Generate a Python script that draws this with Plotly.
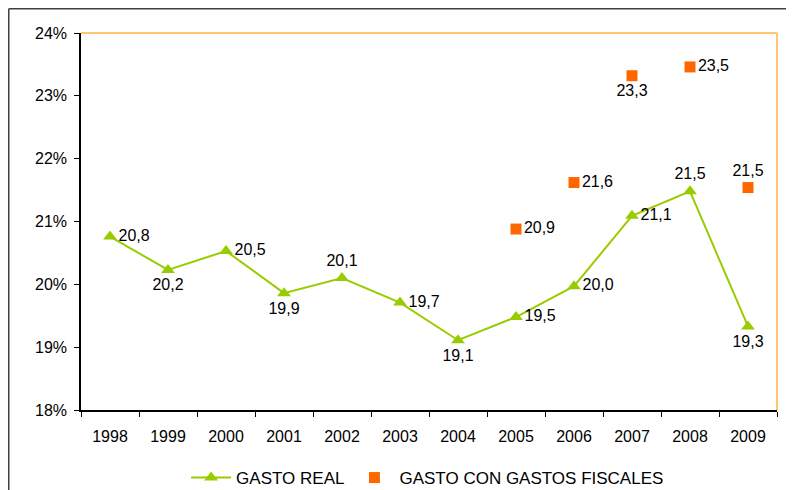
import plotly.graph_objects as go

years = ["1998", "1999", "2000", "2001", "2002", "2003", "2004", "2005", "2006", "2007", "2008", "2009"]
gasto_real = [20.76, 20.23, 20.53, 19.86, 20.10, 19.71, 19.11, 19.48, 19.97, 21.09, 21.48, 19.33]
real_pos = ["middle right", "bottom center", "middle right", "bottom center", "top center", "middle right",
            "bottom center", "middle right", "middle right", "middle right", "top center", "bottom center"]
fisc_years = ["2005", "2006", "2007", "2008", "2009"]
gasto_fiscal = [20.88, 21.62, 23.32, 23.46, 21.54]
fisc_pos = ["middle right", "middle right", "bottom center", "middle right", "top center"]
y_ticks = [18, 19, 20, 21, 22, 23, 24]


def fmt(v):
    return f"{v:.1f}".replace(".", ",")


FONT = "Liberation Sans, Arial, sans-serif"
fig = go.Figure()
fig.add_trace(go.Scatter(
    x=years, y=gasto_real, name="GASTO REAL", mode="lines+markers+text",
    line=dict(color="#99CC00", width=2),
    marker=dict(symbol="triangle-up", size=12, color="#99CC00"),
    text=[fmt(v) for v in gasto_real], textposition=real_pos,
    textfont=dict(size=16, color="black", family=FONT), cliponaxis=False,
))
fig.add_trace(go.Scatter(
    x=fisc_years, y=gasto_fiscal, name="GASTO CON GASTOS FISCALES", mode="markers+text",
    marker=dict(symbol="square", size=11, color="#FF6600"),
    text=[fmt(v) for v in gasto_fiscal], textposition=fisc_pos,
    textfont=dict(size=16, color="black", family=FONT), cliponaxis=False,
))

# figure is drawn at an 8px page offset
W, H = 786, 482
L, T = 73, 25
R, B = 17, 80
pw, ph = W - L - R, H - T - B

# orange top and right frame
fig.add_shape(type="line", xref="paper", yref="paper", x0=0, x1=1, y0=1, y1=1,
              line=dict(color="#FFC870", width=2))
fig.add_shape(type="line", xref="paper", yref="paper", x0=1, x1=1, y0=0, y1=1,
              line=dict(color="#FFC870", width=2))
# outer chart border (left and top edges)
fig.add_shape(type="line", xref="paper", yref="paper",
              x0=(0.75 - L) / pw, x1=(0.75 - L) / pw, y0=-(H - T - ph) / ph - 0.05, y1=1 + (T - 0.75) / ph,
              line=dict(color="#404040", width=1.5))
fig.add_shape(type="line", xref="paper", yref="paper",
              x0=(0.75 - L) / pw, x1=(W + 10 - L) / pw, y0=1 + (T - 0.75) / ph, y1=1 + (T - 0.75) / ph,
              line=dict(color="#404040", width=1.5))

fig.update_layout(
    width=W, height=H,
    margin=dict(l=L, r=R, t=T, b=B, autoexpand=False),
    paper_bgcolor="white", plot_bgcolor="white",
    font=dict(family=FONT, size=16, color="black"),
    showlegend=True,
    legend=dict(orientation="h", xref="paper", x=0.498, xanchor="center",
                yref="container", y=(H - 470) / H, yanchor="middle",
                font=dict(size=17), itemwidth=40, tracegroupgap=0),
    xaxis=dict(type="category", categoryorder="array", categoryarray=years,
               range=[-0.5, 11.5], showgrid=False, showline=True, linecolor="black", linewidth=1.5,
               ticks="outside", tickson="boundaries", ticklen=5, tickcolor="black",
               ticklabelstandoff=11, tickfont=dict(size=16), zeroline=False),
    yaxis=dict(range=[18, 24], tickvals=y_ticks, ticktext=[f"{v}%" for v in y_ticks],
               showgrid=False, showline=True, linecolor="black", linewidth=1.5,
               ticks="outside", ticklen=5, tickcolor="black", ticklabelstandoff=4,
               tickfont=dict(size=16), zeroline=False),
)

fig.write_html("out.html")
